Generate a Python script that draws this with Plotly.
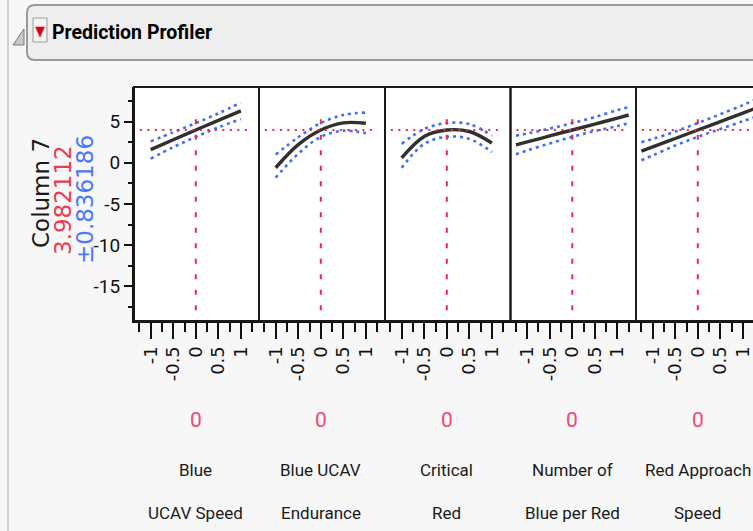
import plotly.graph_objects as go

W, H = 753, 531

# ---- data -----------------------------------------------------------------
factor_line1 = ["Blue", "Blue UCAV", "Critical", "Number of", "Red Approach"]
factor_line2 = ["UCAV Speed", "Endurance", "Red", "Blue per Red", "Speed"]
current_x = [0, 0, 0, 0, 0]

response_name = "Column 7"
predicted = 3.982112
half_width = 0.836186

x_ticks = [-1, -0.5, 0, 0.5, 1]
x_ticktext = ["-1", "-0.5", "0", "0.5", "1"]
x_minor = [-1.25, -0.75, -0.25, 0.25, 0.75, 1.25]
y_ticks = [-15, -10, -5, 0, 5]
y_ticktext = ["-15", "-10", "-5", "0", "5"]
y_minor = [-17.5, -12.5, -7.5, -2.5, 2.5, 7.5]

grid_short = [-1, -0.5, 0, 0.5, 1]
grid_long = [-1.25, -1, -0.5, 0, 0.5, 1, 1.25]

speed_pred = [1.6, 2.8, 3.98, 5.15, 6.3]
speed_upper = [2.6, 3.7, 4.82, 6.0, 7.3]
speed_lower = [0.5, 1.9, 3.15, 4.3, 5.3]

endur_pred = [-0.6, 2.2, 3.98, 4.85, 4.8]
endur_upper = [1.0, 3.1, 4.82, 5.8, 6.1]
endur_lower = [-1.8, 1.1, 3.15, 3.9, 3.6]

critical_pred = [0.6, 3.2, 3.98, 3.8, 2.4]
critical_upper = [2.3, 4.1, 4.82, 4.7, 3.3]
critical_lower = [-0.6, 2.3, 3.15, 2.9, 1.3]

ratio_pred = [2.17, 2.53, 3.26, 3.98, 4.7, 5.43, 5.8]
ratio_upper = [3.3, 3.55, 4.15, 4.82, 5.55, 6.4, 6.75]
ratio_lower = [1.05, 1.5, 2.35, 3.15, 3.85, 4.45, 4.8]

approach_pred = [1.42, 1.93, 2.95, 3.98, 5.0, 6.03, 6.55]
approach_upper = [2.5, 2.9, 3.8, 4.82, 5.9, 7.0, 7.6]
approach_lower = [0.3, 0.9, 2.1, 3.15, 4.1, 5.05, 5.5]

profiles = [
    (grid_short, speed_pred, speed_upper, speed_lower),
    (grid_short, endur_pred, endur_upper, endur_lower),
    (grid_short, critical_pred, critical_upper, critical_lower),
    (grid_long, ratio_pred, ratio_upper, ratio_lower),
    (grid_long, approach_pred, approach_upper, approach_lower),
]

# ---- layout helpers (pixel -> paper) ----------------------------------------
def px(x):
    return x / W


def py(y):
    return 1 - y / H


NARROW = "Roboto, Liberation Sans, Arial, sans-serif"
WIDE = "DejaVu Sans, Verdana, Arial, sans-serif"
RED = "#ee2848"
BLUE = "#3f6cff"

panel_edges = [134, 259, 385, 510.5, 636, 761]
plot_top, plot_bottom = 87, 321
px_per_unit = 45.1
x_left = -1.37
y_range = [-19.2, 9.2]

fig = go.Figure()

for i, (xs, pred, up, lo) in enumerate(profiles):
    ax = "x" if i == 0 else f"x{i + 1}"
    for band in (up, lo):
        fig.add_trace(go.Scatter(
            x=xs, y=band, xaxis=ax, yaxis="y", mode="lines",
            line=dict(color=BLUE, width=2.6, dash="3px,4px", shape="spline"),
            hoverinfo="skip", showlegend=False))
    fig.add_trace(go.Scatter(
        x=xs, y=pred, xaxis=ax, yaxis="y", mode="lines",
        line=dict(color="#303030", width=3.4, shape="spline"),
        showlegend=False))

layout = dict(
    width=W, height=H, autosize=False,
    margin=dict(l=0, r=0, t=0, b=0),
    paper_bgcolor="#f7f7f7", plot_bgcolor="white",
    showlegend=False,
    yaxis=dict(
        domain=[py(plot_bottom), py(plot_top)], anchor="x",
        range=y_range, tickmode="array", tickvals=y_ticks, ticktext=y_ticktext,
        ticks="outside", ticklen=8, tickwidth=2, tickcolor="#111",
        minor=dict(tickmode="array", tickvals=y_minor, ticks="outside",
                   ticklen=4, tickwidth=2, tickcolor="#111"),
        showline=True, linecolor="#111", linewidth=2,
        showgrid=False, zeroline=False, fixedrange=True,
        tickfont=dict(family=NARROW, size=19, color="#111"),
    ),
)

shapes = []
annotations = []


def label(xpix, ypix, text, font, **kw):
    d = dict(x=px(xpix), y=py(ypix), xref="paper", yref="paper", text=text,
             showarrow=False, xanchor="center", yanchor="middle", font=font)
    d.update(kw)
    annotations.append(d)


for i in range(5):
    name = "xaxis" if i == 0 else f"xaxis{i + 1}"
    ax = "x" if i == 0 else f"x{i + 1}"
    left, right = panel_edges[i], min(panel_edges[i + 1], W)
    x_right = x_left + (right - left) / px_per_unit
    layout[name] = dict(
        domain=[px(left), px(right)], anchor="y",
        range=[x_left, x_right], tickmode="array",
        tickvals=x_ticks, ticktext=x_ticktext, tickangle=-90,
        ticklabeloverflow="allow",
        ticks="outside", ticklen=16, tickwidth=2, tickcolor="#111",
        minor=dict(tickmode="array", tickvals=x_minor, ticks="outside",
                   ticklen=9, tickwidth=1.6, tickcolor="#111"),
        showline=True, linecolor="#111", linewidth=2,
        showgrid=False, zeroline=False, fixedrange=True,
        tickfont=dict(family=WIDE, size=18, color="#111"),
    )

    # reference lines through the current setting and prediction
    shapes.append(dict(type="line", xref=ax, yref="y",
                       x0=-1.24, x1=1.16, y0=predicted, y1=predicted,
                       line=dict(color=RED, width=2.2, dash="2px,5.5px")))
    shapes.append(dict(type="line", xref=ax, yref="y",
                       x0=current_x[i], x1=current_x[i], y0=-17.9, y1=6.05,
                       line=dict(color=RED, width=2, dash="5px,10.5px")))

    # panel frame
    shapes.append(dict(type="rect", xref="paper", yref="paper",
                       x0=px(panel_edges[i]), x1=px(panel_edges[i + 1]),
                       y0=py(plot_bottom), y1=py(plot_top),
                       line=dict(color="#1a1a1a", width=2), layer="above"))

    # current value and factor name
    xc = panel_edges[i] + (current_x[i] - x_left) * px_per_unit
    label(xc, 420, str(current_x[i]), dict(family=NARROW, size=21, color="#f04a70"))
    label(xc, 470, factor_line1[i], dict(family=NARROW, size=17, color="#1a1a1a"))
    label(xc, 513, factor_line2[i], dict(family=NARROW, size=17, color="#1a1a1a"))

# response title, prediction and interval half-width (vertical)
for text, xpos, ypos, color in [
    (response_name, 41, 193, "#1a1a1a"),
    (f"{predicted:.6f}", 63, 200, "#ee3a52"),
    (f"\u00b1{half_width:.6f}", 85, 200, "#4a78ff"),
]:
    label(xpos, ypos, text, dict(family=WIDE, size=23, color=color), textangle=-90)

# outline header bar
r = 8
hx0, hx1, hy0, hy1 = 27, 770, 5, 60
path = (f"M {px(hx0 + r)},{py(hy0)} L {px(hx1)},{py(hy0)} L {px(hx1)},{py(hy1)} "
        f"L {px(hx0 + r)},{py(hy1)} Q {px(hx0)},{py(hy1)} {px(hx0)},{py(hy1 - r)} "
        f"L {px(hx0)},{py(hy0 + r)} Q {px(hx0)},{py(hy0)} {px(hx0 + r)},{py(hy0)} Z")
shapes.insert(0, dict(type="path", xref="paper", yref="paper", path=path,
                      fillcolor="#eeeeee", line=dict(color="#9a9a9a", width=2),
                      layer="below"))
# left rule of the report
shapes.insert(0, dict(type="line", xref="paper", yref="paper",
                      x0=px(8), x1=px(8), y0=0, y1=1,
                      line=dict(color="#c4c4c4", width=1.5), layer="below"))
# disclosure triangle
shapes.append(dict(type="path", xref="paper", yref="paper",
                   path=f"M {px(13)},{py(45)} L {px(24)},{py(45)} L {px(24)},{py(29)} Z",
                   fillcolor="#c8c8c8", line=dict(color="#7a7a7a", width=1)))
# red menu button
shapes.append(dict(type="rect", xref="paper", yref="paper",
                   x0=px(33), x1=px(47), y0=py(42), y1=py(18),
                   fillcolor="#f4f4f4", line=dict(color="#9a9a9a", width=1)))
shapes.append(dict(type="path", xref="paper", yref="paper",
                   path=f"M {px(35.5)},{py(27)} L {px(44.5)},{py(27)} L {px(40)},{py(37)} Z",
                   fillcolor="#dd0018", line=dict(color="#dd0018", width=0.5)))

label(50, 33, "<b>Prediction Profiler</b>",
      dict(family=NARROW, size=19.5, color="#000"), xanchor="left")

layout["shapes"] = shapes
layout["annotations"] = annotations
fig.update_layout(**layout)

fig.write_html("out.html")
